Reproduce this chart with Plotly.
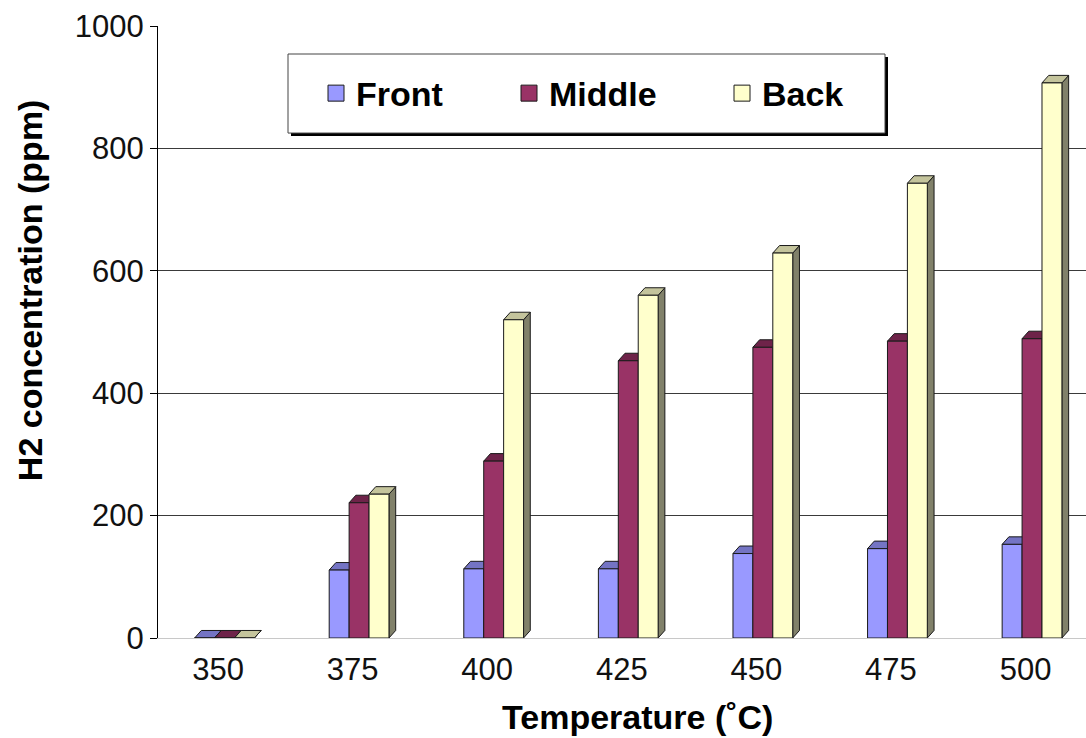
import plotly.graph_objects as go

# H2 concentration measured at three positions vs. temperature
temperatures = ["350", "375", "400", "425", "450", "475", "500"]
front = [0, 111, 113, 113, 138, 146, 153]
middle = [0, 221, 289, 453, 475, 485, 489]
back = [0, 235, 520, 560, 629, 743, 907]

# name, values, face colour, top colour, side colour, legend entry width
series = [
    ("Front", front, "#9999FF", "#7474C4", "#5C5C99", 148),
    ("Middle", middle, "#993366", "#6E2349", "#5C1F3D", 168),
    ("Back", back, "#FFFFCC", "#C4C49C", "#81816A", 90),
]

BAR_W = 0.148                 # bar width in category units
OFFSETS = [-0.1, 0.048, 0.196]  # bar centre offset from category centre
DEPTH_X = 0.05                # pseudo-3D extrusion, x (category units)
DEPTH_Y = 12.3                # pseudo-3D extrusion, y (ppm units)
EDGE = "#1a1a1a"

FONT = "Arial, Liberation Sans, sans-serif"

fig = go.Figure()
n = len(temperatures)
cat_x = list(range(n))

# extrusion faces (tops and sides), drawn beneath the bar front faces
for k, (name, vals, face, top, side, _) in enumerate(series):
    xs_top, ys_top, xs_side, ys_side = [], [], [], []
    for i, v in enumerate(vals):
        x0 = cat_x[i] + OFFSETS[k] - BAR_W / 2
        x1 = x0 + BAR_W
        xs_top += [x0, x1, x1 + DEPTH_X, x0 + DEPTH_X, x0, None]
        ys_top += [v, v, v + DEPTH_Y, v + DEPTH_Y, v, None]
        xs_side += [x1, x1 + DEPTH_X, x1 + DEPTH_X, x1, x1, None]
        ys_side += [0, DEPTH_Y, v + DEPTH_Y, v, 0, None]
    fig.add_trace(go.Scatter(x=xs_side, y=ys_side, mode="lines", fill="toself",
                             fillcolor=side, line=dict(color=EDGE, width=1),
                             hoverinfo="skip", showlegend=False))
    fig.add_trace(go.Scatter(x=xs_top, y=ys_top, mode="lines", fill="toself",
                             fillcolor=top, line=dict(color=EDGE, width=1),
                             hoverinfo="skip", showlegend=False))

# bar front faces on an overlaid axis pair so they sit above the extrusions
for k, (name, vals, face, top, side, _) in enumerate(series):
    fig.add_trace(go.Bar(x=[c + OFFSETS[k] for c in cat_x], y=vals, width=BAR_W,
                         marker=dict(color=face, line=dict(color=EDGE, width=1)),
                         name=name, xaxis="x2", yaxis="y2", showlegend=False))

# legend entries
for name, vals, face, top, side, lw in series:
    fig.add_trace(go.Scatter(x=[None], y=[None], mode="markers", name=name,
                             marker=dict(symbol="square", size=16, color=face,
                                         line=dict(color=EDGE, width=1)),
                             legendwidth=lw, showlegend=True))

L, T, PW, PH = 158, 26, 928, 611.7


def px(x):
    return (x - L) / PW


def py(y):
    return (T + PH - y) / PH


xr = [-0.446, 6.449]
fig.update_layout(
    width=1086, height=738,
    margin=dict(l=L, r=0, t=T, b=100.3),
    paper_bgcolor="white", plot_bgcolor="white",
    font=dict(family=FONT, color="#111"),
    barmode="overlay",
    xaxis=dict(range=xr, tickmode="array", tickvals=cat_x, ticktext=temperatures,
               showgrid=False, zeroline=False, showline=True, linecolor="#c8c8c8",
               linewidth=1, ticks="", tickfont=dict(size=31, color="#111"),
               ticklabelstandoff=4, fixedrange=True),
    xaxis2=dict(range=xr, overlaying="x", visible=False, fixedrange=True),
    yaxis=dict(range=[0, 1000], dtick=200, showgrid=True, gridcolor="#3a3a3a",
               gridwidth=1, zeroline=False, showline=True, linecolor="black",
               linewidth=1, ticks="outside", ticklen=7, tickcolor="black",
               tickfont=dict(size=31, color="#111"), ticklabelstandoff=0,
               fixedrange=True),
    yaxis2=dict(range=[0, 1000], overlaying="y", visible=False, fixedrange=True),
    legend=dict(orientation="h", x=px(316), xanchor="left", y=py(93.5),
                yanchor="middle", bgcolor="rgba(0,0,0,0)", borderwidth=0,
                font=dict(size=34, family=FONT, color="black", weight="bold")),
    shapes=[
        dict(type="rect", xref="paper", yref="paper", x0=px(291), x1=px(888),
             y0=py(136), y1=py(57), fillcolor="black", line=dict(width=0),
             layer="above"),
        dict(type="rect", xref="paper", yref="paper", x0=px(288), x1=px(885),
             y0=py(133), y1=py(54), fillcolor="white",
             line=dict(color="#444", width=1), layer="above"),
    ],
    annotations=[
        dict(text="<b>H2 concentration (ppm)</b>", xref="paper", yref="paper",
             x=px(30), y=py(290), xanchor="center", yanchor="middle",
             textangle=-90, showarrow=False,
             font=dict(size=34, family=FONT, color="black")),
        dict(text="<b>Temperature (˚C)</b>", xref="paper", yref="paper",
             x=px(637), y=py(717), xanchor="center", yanchor="middle",
             showarrow=False, font=dict(size=34, family=FONT, color="black")),
    ],
)

fig.write_html("out.html")
